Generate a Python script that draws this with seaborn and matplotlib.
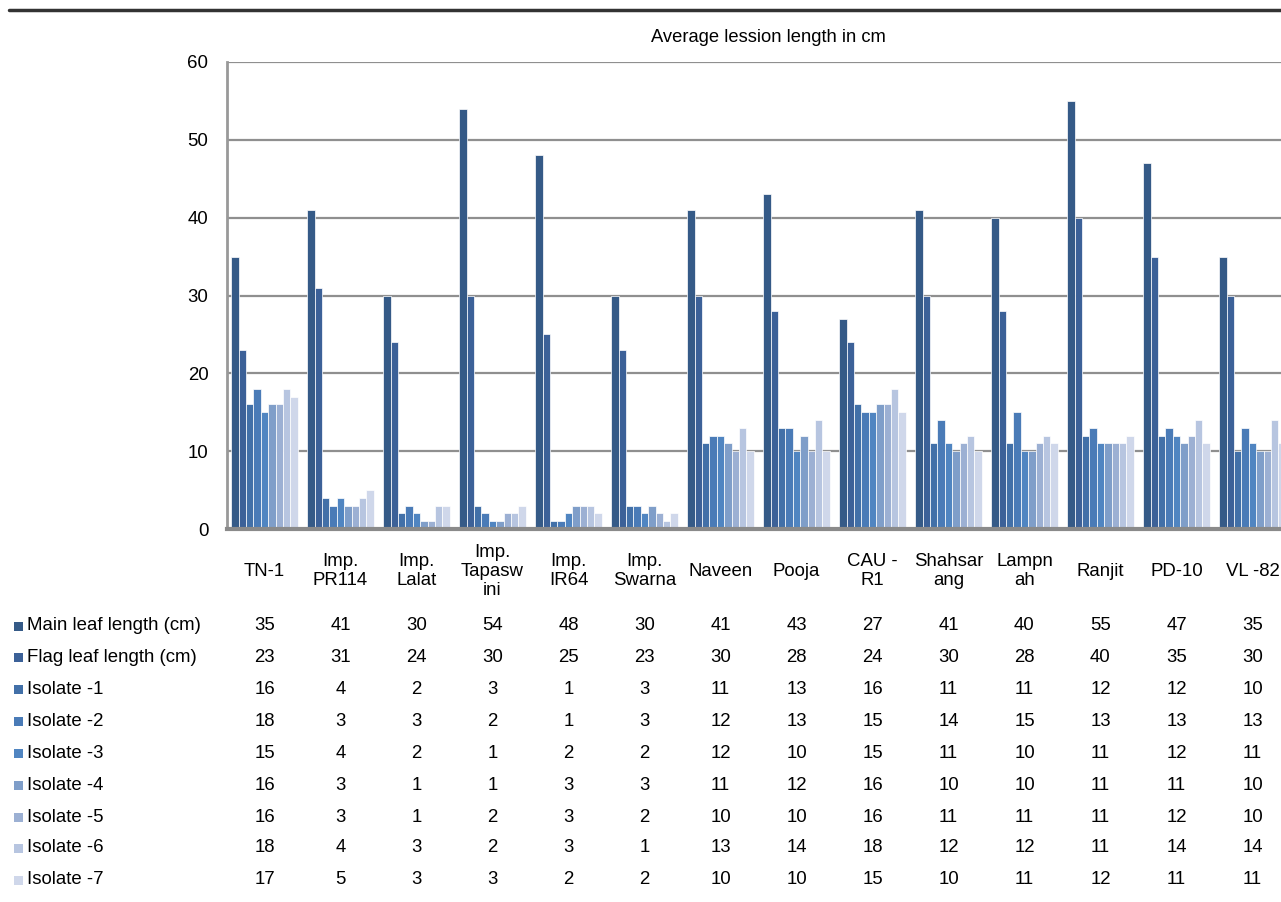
import matplotlib
matplotlib.use("Agg")
import matplotlib.pyplot as plt
import matplotlib.transforms as mtransforms
from matplotlib.patches import Rectangle
from matplotlib.lines import Line2D
import pandas as pd
import seaborn as sns

# Rice varieties (x categories)
varieties = ["TN-1", "Imp.\nPR114", "Imp.\nLalat", "Imp.\nTapasw\nini", "Imp.\nIR64",
             "Imp.\nSwarna", "Naveen", "Pooja", "CAU -\nR1", "Shahsar\nang",
             "Lampn\nah", "Ranjit", "PD-10", "VL -82"]

series_names = ["Main leaf length (cm)", "Flag leaf length (cm)", "Isolate -1",
                "Isolate -2", "Isolate -3", "Isolate -4", "Isolate -5",
                "Isolate -6", "Isolate -7"]

main_leaf = [35, 41, 30, 54, 48, 30, 41, 43, 27, 41, 40, 55, 47, 35]
flag_leaf = [23, 31, 24, 30, 25, 23, 30, 28, 24, 30, 28, 40, 35, 30]
isolate_1 = [16, 4, 2, 3, 1, 3, 11, 13, 16, 11, 11, 12, 12, 10]
isolate_2 = [18, 3, 3, 2, 1, 3, 12, 13, 15, 14, 15, 13, 13, 13]
isolate_3 = [15, 4, 2, 1, 2, 2, 12, 10, 15, 11, 10, 11, 12, 11]
isolate_4 = [16, 3, 1, 1, 3, 3, 11, 12, 16, 10, 10, 11, 11, 10]
isolate_5 = [16, 3, 1, 2, 3, 2, 10, 10, 16, 11, 11, 11, 12, 10]
isolate_6 = [18, 4, 3, 2, 3, 1, 13, 14, 18, 12, 12, 11, 14, 14]
isolate_7 = [17, 5, 3, 3, 2, 2, 10, 10, 15, 10, 11, 12, 11, 11]

series_values = [main_leaf, flag_leaf, isolate_1, isolate_2, isolate_3,
                 isolate_4, isolate_5, isolate_6, isolate_7]

colors = ["#355a87", "#3c6198", "#4270a8", "#4a7bb7", "#5085c1",
          "#7f9ec9", "#9cb0d3", "#b7c5e0", "#cfd7ea"]

y_ticks = [0, 10, 20, 30, 40, 50, 60]

rows = []
for name, vals in zip(series_names, series_values):
    for v, val in zip(varieties, vals):
        rows.append({"variety": v, "series": name, "value": val})
df = pd.DataFrame(rows)

sns.set_theme(style="white")
plt.rcParams["font.family"] = ["Liberation Sans", "DejaVu Sans"]

W, H = 1281, 902
fig = plt.figure(figsize=(W / 100, H / 100), dpi=100)

ax_left, ax_right = 226.5, 1290.5
ax_top, ax_bottom = 62, 529
ax = fig.add_axes([ax_left / W, 1 - ax_bottom / H,
                   (ax_right - ax_left) / W, (ax_bottom - ax_top) / H])

sns.barplot(data=df, x="variety", y="value", hue="series",
            hue_order=series_names, order=varieties, palette=colors,
            width=0.87, dodge=True, ax=ax, legend=False,
            edgecolor="white", linewidth=0.5, saturation=1)

ax.set_xlim(-0.5, len(varieties) - 0.5)
ax.set_ylim(0, 60)
ax.set_yticks(y_ticks)
ax.set_xlabel("")
ax.set_ylabel("")
ax.yaxis.grid(True, color="#8f8f8f", linewidth=1.6)
ax.set_axisbelow(True)

for side in ["top", "right"]:
    ax.spines[side].set_visible(False)
ax.spines["left"].set_color("#999999")
ax.spines["left"].set_linewidth(2)
ax.spines["bottom"].set_color("#8a8a8a")
ax.spines["bottom"].set_linewidth(3)

FS = 13.4
ax.tick_params(axis="y", length=0, pad=13, labelsize=FS, labelcolor="black")
ax.tick_params(axis="x", length=0, pad=30.5, labelsize=FS, labelcolor="black")
for lbl in ax.get_xticklabels():
    lbl.set_verticalalignment("center")
    lbl.set_linespacing(1.15)

fig.text(768 / W, 1 - 37 / H, "Average lession length in cm",
         ha="center", va="center", fontsize=13.2, color="black")

# data table under the chart
blend = mtransforms.blended_transform_factory(ax.transData, fig.transFigure)
row_y = [626, 657, 689, 721, 753, 785, 817, 848, 880]
for name, vals, col, y in zip(series_names, series_values, colors, row_y):
    yf = 1 - y / H
    fig.patches.append(Rectangle((13.5 / W, 1 - (y + 4.5) / H), 9 / W, 9 / H,
                                 transform=fig.transFigure, facecolor=col,
                                 edgecolor="none"))
    fig.text(27 / W, yf, name, ha="left", va="center", fontsize=FS,
             color="black")
    for i, val in enumerate(vals):
        ax.text(i, yf, str(val), transform=blend, ha="center", va="center",
                fontsize=FS, color="black", clip_on=False)

# rule across the top of the figure
fig.add_artist(Line2D([9 / W, 1.0], [1 - 10 / H, 1 - 10 / H],
                      transform=fig.transFigure, color="#333333", linewidth=2.5))

fig.savefig("out.png", dpi=100)
